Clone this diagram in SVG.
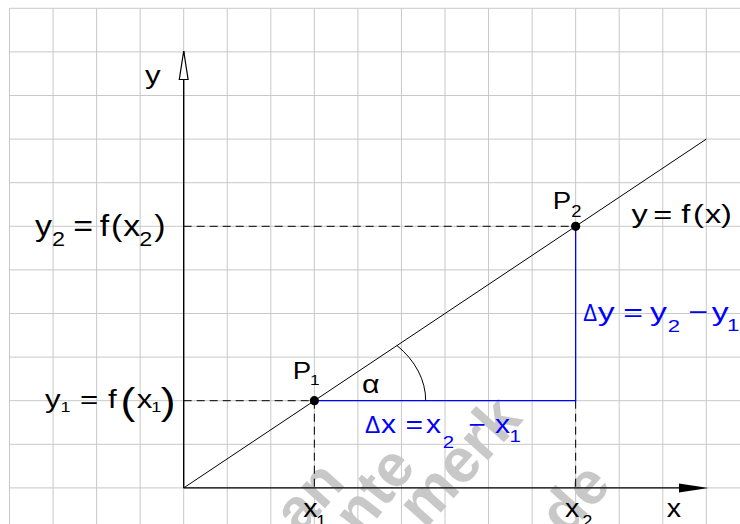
<svg xmlns="http://www.w3.org/2000/svg" width="740" height="524" viewBox="0 0 740 524">
<style>
.grid{stroke:#c8c8c8;stroke-width:1;fill:none}
.axis{stroke:#000;stroke-width:1.4;fill:none}
.fn{stroke:#000;stroke-width:1;fill:none}
.dash{stroke:#000;stroke-width:1;stroke-dasharray:8 5;fill:none}
.blue{stroke:#0000ff;stroke-width:1.3;fill:none}
text{font-family:"Liberation Sans",Arial,sans-serif;fill:#000}
.b{fill:#0000ff}
.wm{font-family:"Liberation Sans",Arial,sans-serif;font-weight:bold;fill:#c8c8c8}
</style>
<rect width="740" height="524" fill="#fff"/>
<g id="grid">
<path class="grid" d="M9.5 8.3V524M53.05 8.3V524M96.6 8.3V524M140.15 8.3V524M183.7 8.3V524M227.25 8.3V524M270.8 8.3V524M314.35 8.3V524M357.9 8.3V524M401.45 8.3V524M445 8.3V524M488.55 8.3V524M532.1 8.3V524M575.65 8.3V524M619.2 8.3V524M662.75 8.3V524M706.3 8.3V524M9.5 8.3H740M9.5 51.9H740M9.5 95.5H740M9.5 139.1H740M9.5 182.7H740M9.5 226.3H740M9.5 269.9H740M9.5 313.5H740M9.5 357.1H740M9.5 400.7H740M9.5 444.3H740M9.5 487.9H740"/>
</g>
<g id="watermark">
<text class="wm" font-size="60" transform="translate(300,536) rotate(-48)">an</text>
<text class="wm" font-size="60" transform="translate(362,538) rotate(-52)">nte</text>
<text class="wm" font-size="62" transform="translate(425,530) rotate(-48)">merk</text>
<text class="wm" font-size="60" transform="translate(566,538) rotate(-48)">de</text>
</g>
<g id="connectors">
<path class="fn" d="M183.7 487.9L706.3 139.1"/>
<path class="dash" d="M183.7 226.3H575.65M183.7 400.7H314.35M314.35 400.7V487.9M575.65 400.7V487.9"/>
<path class="blue" d="M314.35 400.7H575.65V226.3"/>
<path class="fn" d="M396.8 345.4A111.3 82.3 0 0 1 425.7 400.7"/>
<path class="axis" d="M183.7 487.9V51M183.7 487.9H700"/>
<polygon points="183.7,51 179.3,79.5 188.1,79.5" fill="#fff" stroke="#000" stroke-width="1.2"/>
<polygon points="708.5,487.9 679,483.4 679,492.4" fill="#000"/>
</g>
<g id="P1">
<circle cx="314.35" cy="400.7" r="4.6" fill="#000"/>
<text font-size="24" transform="scale(1.15,1)"><tspan x="254.6" y="379.3">P</tspan><tspan x="269.5" y="385.5" font-size="15">1</tspan></text>
</g>
<g id="P2">
<circle cx="575.65" cy="226.3" r="4.6" fill="#000"/>
<text font-size="24" transform="scale(1.15,1)"><tspan x="480.7" y="209.3">P</tspan><tspan x="496.7" y="216.7" font-size="16">2</tspan></text>
</g>
<g id="label-y-axis"><text font-size="26" transform="scale(1.2,1)" x="120.8" y="84">y</text></g>
<g id="label-x-axis"><text font-size="26" transform="scale(1.1,1)" x="606.1" y="517.5">x</text></g>
<g id="label-x1"><text font-size="26" transform="scale(1.1,1)"><tspan x="275.7" y="517.3">x</tspan><tspan x="287.6" y="527.5" font-size="16">1</tspan></text></g>
<g id="label-x2"><text font-size="26" transform="scale(1.1,1)"><tspan x="513.6" y="517.3">x</tspan><tspan x="529.5" y="527.5" font-size="16">2</tspan></text></g>
<g id="label-y2"><text font-size="29" transform="scale(1.17,1)"><tspan x="29.91" y="236">y</tspan><tspan x="44.44" y="246.5" font-size="20">2</tspan><tspan x="62.65" y="236">=</tspan><tspan x="85.21" y="236">f</tspan><tspan x="94.96" y="236">(</tspan><tspan x="105.38" y="236">x</tspan><tspan x="119.06" y="246.5" font-size="20">2</tspan><tspan x="131.79" y="236">)</tspan></text></g>
<g id="label-y1"><text font-size="26" transform="scale(1.2,1)"><tspan x="37.5" y="408">y</tspan><tspan x="50.5" y="412.3" font-size="15">1</tspan><tspan x="66.75" y="408">=</tspan><tspan x="90" y="408">f</tspan><tspan x="100.42" y="414" font-size="37">(</tspan><tspan x="113.92" y="408">x</tspan><tspan x="126" y="412.3" font-size="15">1</tspan><tspan x="133.92" y="414" font-size="37">)</tspan></text></g>
<g id="label-fx"><text font-size="25" transform="scale(1.3,1)"><tspan x="485.8" y="223.5">y</tspan><tspan x="502.6" y="223.5">=</tspan><tspan x="524.1" y="223.5">f</tspan><tspan x="533" y="223.5">(</tspan><tspan x="542.3" y="223.5">x</tspan><tspan x="554.6" y="223.5">)</tspan></text></g>
<g id="label-alpha"><text font-size="26" transform="scale(1.17,1)" x="309.5" y="393">α</text></g>
<g id="label-dx">
<text class="b" font-size="24" transform="scale(0.95,1)" x="384.2" y="433.5">Δ</text>
<text class="b" font-size="25" transform="scale(1.2,1)"><tspan x="317.5" y="433.5">x</tspan><tspan x="338" y="433.5">=</tspan><tspan x="355" y="433.5">x</tspan><tspan x="369" y="448" font-size="17">2</tspan><tspan x="390.42" y="433.5">−</tspan><tspan x="412.5" y="433.5">x</tspan><tspan x="424.58" y="442" font-size="17">1</tspan></text>
</g>
<g id="label-dy">
<text class="b" font-size="23" transform="scale(0.9,1)" x="648.1" y="321">Δ</text>
<text class="b" font-size="26" transform="scale(1.3,1)"><tspan x="459.77" y="321">y</tspan><tspan x="479.46" y="321">=</tspan><tspan x="500" y="321">y</tspan><tspan x="513.62" y="331.7" font-size="17">2</tspan><tspan x="529.46" y="321">−</tspan><tspan x="547.46" y="321">y</tspan><tspan x="559.23" y="331" font-size="17">1</tspan></text>
</g>
</svg>
